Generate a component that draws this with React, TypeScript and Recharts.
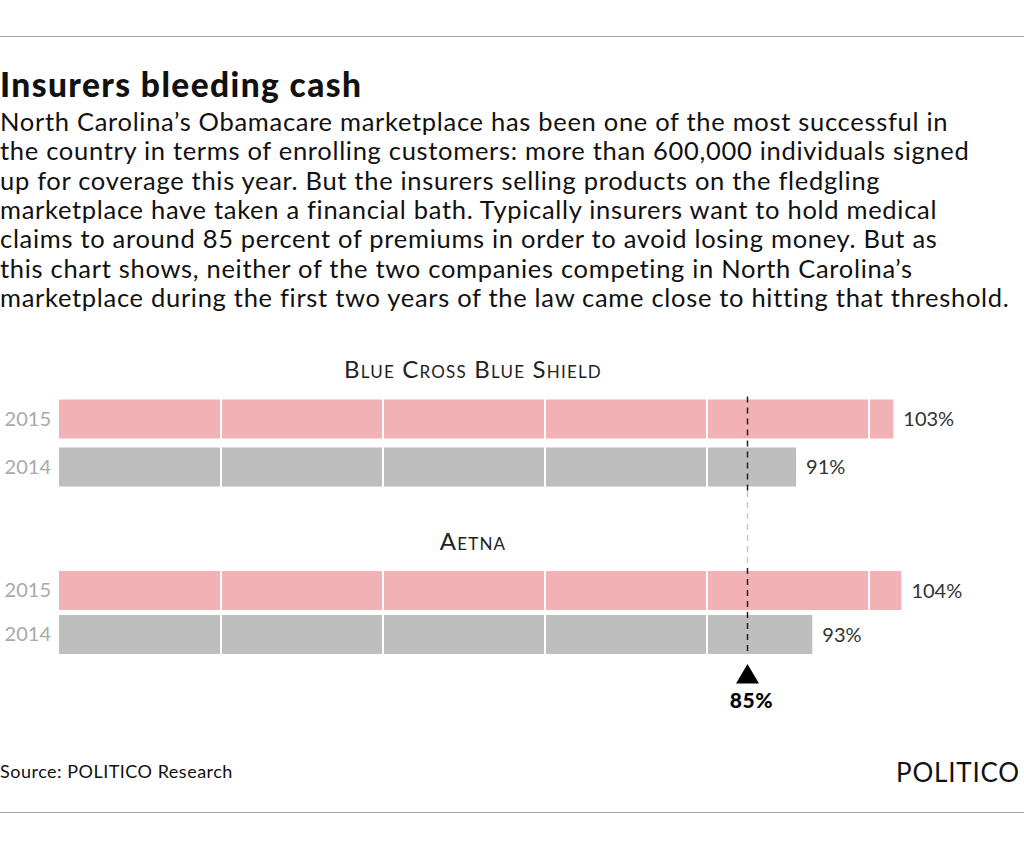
import React from "react";
import { BarChart, Bar, XAxis, YAxis, ReferenceLine, LabelList, Cell } from "recharts";

const years = ["2015", "2014"];
const bcbsValues = [103, 91];
const aetnaValues = [104, 93];
const groupNames = ["Blue Cross Blue Shield", "Aetna"];
const threshold = 85;
const gridTicks = [20, 40, 60, 80, 100];
const barColors = ["#f2b1b5", "#bfbebf"];

const title = "Insurers bleeding cash";
const bodyLines = [
  "North Carolina’s Obamacare marketplace has been one of the most successful in",
  "the country in terms of enrolling customers: more than 600,000 individuals signed",
  "up for coverage this year. But the insurers selling products on the fledgling",
  "marketplace have taken a financial bath. Typically insurers want to hold medical",
  "claims to around 85 percent of premiums in order to avoid losing money. But as",
  "this chart shows, neither of the two companies competing in North Carolina’s",
  "marketplace during the first two years of the law came close to hitting that threshold.",
];
const source = "Source: POLITICO Research";
const brand = "POLITICO";

const FONT = "Lato, 'Open Sans', sans-serif";
const DASH = "6 5";

const bcbsData = years.map((year, i) => ({ year, value: bcbsValues[i] }));
const aetnaData = years.map((year, i) => ({ year, value: aetnaValues[i] }));

// dashed threshold line, grey above the bars, then the marker below
const ThresholdMark = (props: any) => {
  const x = props.x1;
  const top = Math.min(props.y1, props.y2);
  const bottom = Math.max(props.y1, props.y2);
  return (
    <g>
      <line x1={x} x2={x} y1={top - 77} y2={top} stroke="#c9c9c9" strokeWidth={1.5} strokeDasharray={DASH} />
      <line x1={x} x2={x} y1={top} y2={bottom} stroke="#222" strokeWidth={1.5} strokeDasharray={DASH} />
      <path d={`M${x} ${bottom + 8} L${x + 11.5} ${bottom + 27.5} L${x - 11.5} ${bottom + 27.5} Z`} fill="#000" />
      <text x={x + 4} y={bottom + 51.5} textAnchor="middle" fontWeight={900} fontSize={21} letterSpacing={0.6} fill="#000" fontFamily={FONT}>
        {threshold}%
      </text>
    </g>
  );
};

function Group({ data, marker }: { data: { year: string; value: number }[]; marker?: boolean }) {
  return (
    <>
      <XAxis type="number" domain={[0, 110]} hide />
      <YAxis
        type="category"
        dataKey="year"
        width={59}
        axisLine={false}
        tickLine={false}
        tick={{ fill: "#a9a9a9", fontSize: 20, fontFamily: FONT }}
      />
      <Bar dataKey="value" barSize={39} isAnimationActive={false}>
        {data.map((d, i) => (
          <Cell key={d.year} fill={barColors[i]} />
        ))}
        <LabelList
          dataKey="value"
          position="right"
          offset={10}
          formatter={(v: any) => `${v}%`}
          style={{ fill: "#333", fontSize: 20, fontFamily: FONT }}
        />
      </Bar>
      {gridTicks.map((t) => (
        <ReferenceLine key={t} x={t} stroke="#fff" strokeWidth={2} />
      ))}
      {marker ? (
        <ReferenceLine x={threshold} stroke="#222" shape={ThresholdMark} />
      ) : (
        <ReferenceLine x={threshold} stroke="#222" strokeWidth={1.5} strokeDasharray={DASH} />
      )}
    </>
  );
}

export default function App() {
  const abs = (top: number): React.CSSProperties => ({ position: "absolute", top, left: 0 });
  return (
    <div style={{ position: "relative", width: 1024, height: 848, background: "#fff", fontFamily: FONT, color: "#111", overflow: "hidden" }}>
      <style>{"body{margin:0}"}</style>
      <div style={{ ...abs(36), width: 1024, height: 1, background: "#a0a0a0" }} />
      <div style={{ ...abs(64), fontSize: 33.5, fontWeight: 900, lineHeight: "40px", whiteSpace: "nowrap", letterSpacing: 1.4 }}>{title}</div>
      {bodyLines.map((line, i) => (
        <div key={i} style={{ ...abs(107 + i * 29.3), fontSize: 25.5, lineHeight: "29px", whiteSpace: "nowrap", letterSpacing: 0.7, color: "#111" }}>
          {line}
        </div>
      ))}

      {groupNames.map((g, i) => (
        <div
          key={g}
          style={{ ...abs(i === 0 ? 354 : 526), width: 946, textAlign: "center", fontSize: 24, letterSpacing: 1.2, fontVariant: "small-caps", color: "#222", lineHeight: "30px" }}
        >
          {g}
        </div>
      ))}

      <div style={abs(390)}>
        <BarChart width={1024} height={100.5} data={bcbsData} layout="vertical" margin={{ top: 4.5, right: 74, bottom: 0, left: 0 }}>
          {Group({ data: bcbsData })}
        </BarChart>
      </div>
      <div style={abs(490.5)}>
        <BarChart width={1024} height={225} data={aetnaData} layout="vertical" margin={{ top: 77, right: 74, bottom: 60, left: 0 }}>
          {Group({ data: aetnaData, marker: true })}
        </BarChart>
      </div>

      <div style={{ ...abs(759), fontSize: 18, lineHeight: "24px", letterSpacing: 0.5, color: "#111" }}>{source}</div>
      <div style={{ position: "absolute", top: 755, right: 4, fontSize: 26, lineHeight: "34px", letterSpacing: 0.8, color: "#111" }}>{brand}</div>
      <div style={{ ...abs(812), width: 1024, height: 1, background: "#a0a0a0" }} />
    </div>
  );
}
